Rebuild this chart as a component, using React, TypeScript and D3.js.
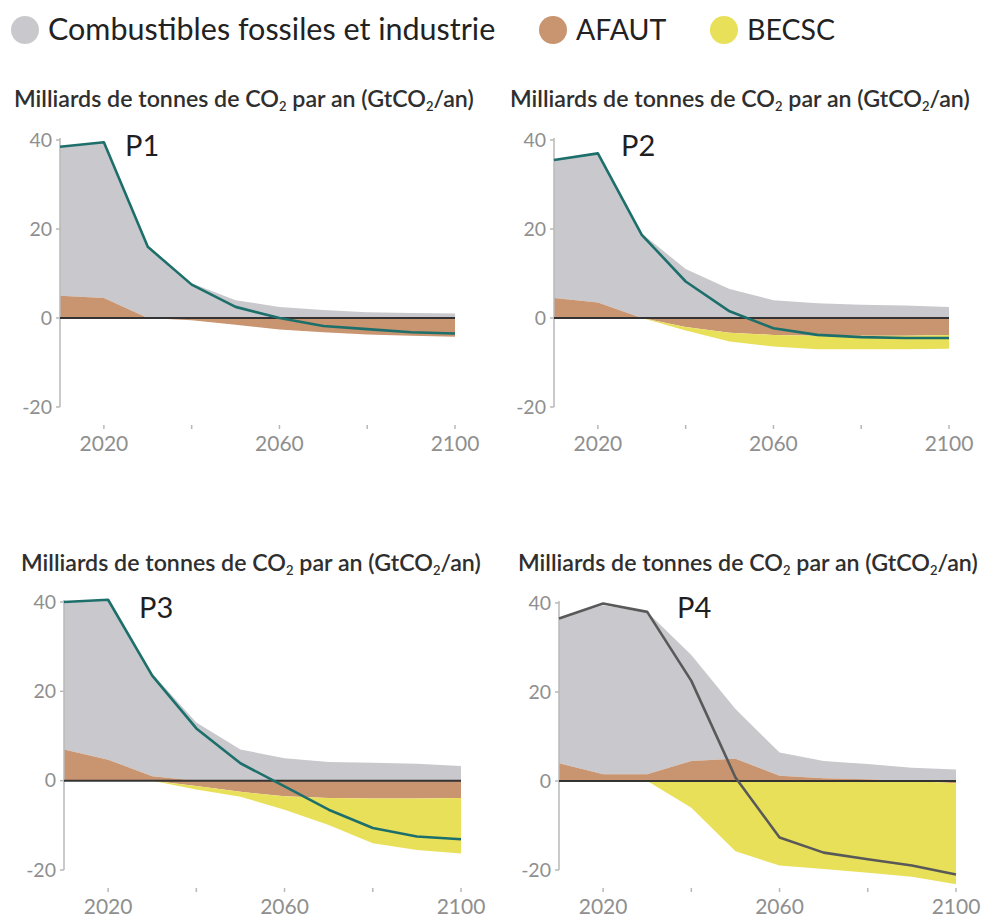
import * as d3 from "d3";

// ---------- Data ----------
const YEARS = [2010, 2020, 2030, 2040, 2050, 2060, 2070, 2080, 2090, 2100];
const X_TICKS = [2020, 2040, 2060, 2080, 2100];
const X_LABELS = [2020, 2060, 2100];
const Y_TICKS = [40, 20, 0, -20];

const P1_FOSSIL = [33.5, 35, 16, 7.8, 4, 2.5, 1.8, 1.3, 1.1, 1.0];
const P1_AFOLU = [5, 4.5, 0, -0.5, -1.5, -2.6, -3.2, -3.7, -4, -4.2];
const P1_BECCS = [0, 0, 0, 0, 0, 0, 0, 0, 0, 0];
const P1_NET = [38.5, 39.5, 16, 7.5, 2.5, 0, -1.8, -2.5, -3.2, -3.5];

const P2_FOSSIL = [31, 33.5, 19, 11, 6.5, 4, 3.3, 3, 2.8, 2.5];
const P2_AFOLU = [4.5, 3.5, 0, -2, -3.3, -3.8, -4, -4, -4, -3.8];
const P2_BECCS = [0, 0, 0, -0.8, -2, -2.6, -3, -3, -3, -3.1];
const P2_NET = [35.5, 37, 18.7, 8.2, 1.5, -2.3, -3.8, -4.3, -4.5, -4.5];

const P3_FOSSIL = [33, 35.8, 23, 13, 7, 5, 4.2, 4, 3.8, 3.3];
const P3_AFOLU = [7, 4.7, 1, -1.2, -2.5, -3.5, -3.9, -4, -4, -3.9];
const P3_BECCS = [0, 0, 0, -0.8, -1.1, -3, -6, -10, -11.5, -12.4];
const P3_NET = [40, 40.5, 23.5, 11.7, 3.9, -1.3, -6.5, -10.6, -12.5, -13.1];

const P4_FOSSIL = [32.5, 38, 36.5, 23.8, 11.2, 5.2, 3.9, 3.4, 3, 2.6];
const P4_AFOLU = [4, 1.5, 1.5, 4.5, 5, 1.2, 0.6, 0.4, 0, -0.5];
const P4_BECCS = [0, 0, 0, -6, -15.8, -19, -19.8, -20.6, -21.5, -22.7];
const P4_NET = [36.5, 39.9, 38, 22.5, 0.8, -12.7, -16.1, -17.6, -19, -21];

const LEGEND = ["Combustibles fossiles et industrie", "AFAUT", "BECSC"];

// ---------- Styles ----------
const FONT = "Lato, 'Open Sans', sans-serif";
const C_FOSSIL = "#c9c9cd";
const C_AFOLU = "#c99470";
const C_BECCS = "#e9e05a";
const C_AXIS = "#b8b8b8";
const C_TICK_TEXT = "#8f8f8f";

type Panel = {
  name: string;
  fossil: number[];
  afolu: number[];
  beccs: number[];
  net: number[];
  lineColor: string;
  // layout: pixel bounds of the plot and label positions
  x0: number;
  x1: number;
  yTop: number;
  yBot: number;
  titleX: number;
  titleY: number;
  labelX: number;
  labelY: number;
};

const PANELS: Panel[] = [
  { name: "P1", fossil: P1_FOSSIL, afolu: P1_AFOLU, beccs: P1_BECCS, net: P1_NET, lineColor: "#1d6f6b",
    x0: 60, x1: 455, yTop: 140, yBot: 407, titleX: 14, titleY: 107, labelX: 125, labelY: 156 },
  { name: "P2", fossil: P2_FOSSIL, afolu: P2_AFOLU, beccs: P2_BECCS, net: P2_NET, lineColor: "#1d6f6b",
    x0: 554, x1: 949, yTop: 140, yBot: 407, titleX: 510, titleY: 107, labelX: 621, labelY: 156 },
  { name: "P3", fossil: P3_FOSSIL, afolu: P3_AFOLU, beccs: P3_BECCS, net: P3_NET, lineColor: "#1d6f6b",
    x0: 64, x1: 461, yTop: 602, yBot: 870, titleX: 21, titleY: 571, labelX: 139, labelY: 618 },
  { name: "P4", fossil: P4_FOSSIL, afolu: P4_AFOLU, beccs: P4_BECCS, net: P4_NET, lineColor: "#595959",
    x0: 559, x1: 956, yTop: 603, yBot: 870, titleX: 518, titleY: 571, labelX: 677, labelY: 618 },
];

type Band = { year: number; lo: number; hi: number };

function ChartPanel({ p }: { p: Panel }) {
  const x = d3.scaleLinear().domain([2010, 2100]).range([p.x0, p.x1]);
  const y = d3.scaleLinear().domain([40, -20]).range([p.yTop, p.yBot]);

  // stacked bands: positive AFOLU under fossil, negative AFOLU above BECCS
  const afoluBand: Band[] = YEARS.map((yr, i) => ({
    year: yr,
    lo: Math.min(p.afolu[i], 0),
    hi: Math.max(p.afolu[i], 0),
  }));
  const fossilBand: Band[] = YEARS.map((yr, i) => ({
    year: yr,
    lo: Math.max(p.afolu[i], 0),
    hi: Math.max(p.afolu[i], 0) + p.fossil[i],
  }));
  const beccsBand: Band[] = YEARS.map((yr, i) => ({
    year: yr,
    lo: Math.min(p.afolu[i], 0) + p.beccs[i],
    hi: Math.min(p.afolu[i], 0),
  }));

  const area = d3
    .area<Band>()
    .x((d) => x(d.year))
    .y0((d) => y(d.lo))
    .y1((d) => y(d.hi));
  const line = d3
    .line<number>()
    .x((_d, i) => x(YEARS[i]))
    .y((d) => y(d));

  const tickY = p.yBot + 18;
  return (
    <g>
      <text x={p.titleX} y={p.titleY} fontSize={23.2} fontWeight={600} fill="#2f2f2f" fontFamily={FONT}>
        Milliards de tonnes de CO
        <tspan fontSize={13} dy={4}>2</tspan>
        <tspan dy={-4}> par an (GtCO</tspan>
        <tspan fontSize={13} dy={4}>2</tspan>
        <tspan dy={-4}>/an)</tspan>
      </text>

      <path d={area(fossilBand) ?? ""} fill={C_FOSSIL} />
      <path d={area(afoluBand) ?? ""} fill={C_AFOLU} />
      <path d={area(beccsBand) ?? ""} fill={C_BECCS} />

      {/* y axis */}
      <line x1={p.x0} x2={p.x0} y1={y(40) - 2} y2={y(-20)} stroke={C_AXIS} strokeWidth={1.5} />
      {Y_TICKS.map((t) => (
        <g key={t}>
          <line x1={p.x0 - 4} x2={p.x0} y1={y(t)} y2={y(t)} stroke={C_AXIS} strokeWidth={1.5} />
          <text x={p.x0 - 8} y={y(t)} dy="0.35em" textAnchor="end" fontSize={19.5} fill={C_TICK_TEXT} fontFamily={FONT}>
            {t}
          </text>
        </g>
      ))}

      {/* zero line */}
      <line x1={p.x0} x2={p.x1} y1={y(0)} y2={y(0)} stroke="#333" strokeWidth={2} />

      {/* x ticks */}
      {X_TICKS.map((t) => (
        <line key={t} x1={x(t)} x2={x(t)} y1={tickY} y2={tickY + 4} stroke={C_AXIS} strokeWidth={1.5} />
      ))}
      {X_LABELS.map((t) => (
        <text key={t} x={x(t)} y={p.yBot + 44} textAnchor="middle" fontSize={21} fill={C_TICK_TEXT} fontFamily={FONT}>
          {t}
        </text>
      ))}

      <path d={line(p.net) ?? ""} fill="none" stroke={p.lineColor} strokeWidth={2.6} strokeLinejoin="round" />

      <text x={p.labelX} y={p.labelY} fontSize={29} fill="#1f1f1f" fontFamily={FONT}>
        {p.name}
      </text>
    </g>
  );
}

export default function App() {
  const legendColors = [C_FOSSIL, C_AFOLU, C_BECCS];
  const legendX = [25, 553, 724];
  return (
    <svg width={988} height={918} style={{ position: "absolute", left: 0, top: 0 }}>
      <rect width={988} height={918} fill="#fff" />
      {LEGEND.map((name, i) => (
        <g key={name}>
          <circle cx={legendX[i]} cy={30} r={14} fill={legendColors[i]} />
          <text x={legendX[i] + 23} y={40} fontSize={i === 0 ? 30.5 : 28.5} fill="#222" fontFamily={FONT}>
            {name}
          </text>
        </g>
      ))}
      {PANELS.map((p) => (
        <ChartPanel key={p.name} p={p} />
      ))}
    </svg>
  );
}
